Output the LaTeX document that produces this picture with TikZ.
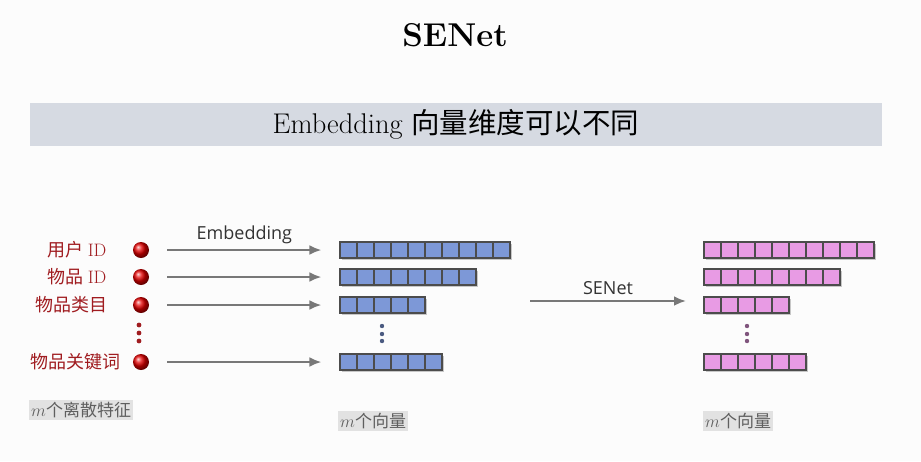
\documentclass[tikz,border=0pt]{standalone}
\usepackage{fontspec}
\newfontfamily\cjk{Noto Sans CJK SC}
\newfontfamily\labelsans{Open Sans}
\usetikzlibrary{arrows.meta,positioning,shadows}
\definecolor{featred}{RGB}{160,28,32}
\definecolor{arrgray}{RGB}{120,120,120}
\definecolor{embblue}{RGB}{125,152,215}
\definecolor{senpink}{RGB}{232,155,228}
\definecolor{bannerbg}{RGB}{214,218,226}
\definecolor{capbg}{RGB}{226,226,226}
\definecolor{capgray}{RGB}{95,95,95}
\tikzstyle{feat} = [circle, minimum size=16pt, inner sep=0pt, shading=ball, ball color=red!90!black]
\tikzstyle{cell} = [draw=black!70, line width=1.1pt, minimum width=17pt, minimum height=16pt, inner sep=0pt]
\tikzstyle{featname} = [anchor=east, text=featred, font=\cjk\fontsize{18}{18}\selectfont]
\tikzstyle{arr} = [-{Latex[length=12pt,width=10pt]}, draw=arrgray, line width=2.6pt]
\tikzstyle{arrlabel} = [above, inner sep=5pt, font=\labelsans\fontsize{18}{18}\selectfont, text=black!80]
\tikzstyle{caption} = [anchor=west, fill=capbg, text=capgray, inner sep=2pt, font=\cjk\fontsize{17}{19}\selectfont]

\begin{document}
\begin{tikzpicture}[x=1pt, y=-1pt]
    % Frame
    \fill[black!1] (0,0) rectangle (921,461);
    \useasboundingbox (0,0) rectangle (921,461);
    \node (title) at (455,35) {\fontsize{33}{35}\selectfont\bfseries SENet};
    \node [fill=bannerbg, minimum width=852pt, minimum height=43pt] (banner) at (456,124.5)
        {\fontsize{28.5}{30}\selectfont Embedding {\cjk 向量维度可以不同}};

    % Features
    \node [feat] (f1) at (141,250) {};
    \node [feat] (f2) at (141,277) {};
    \node [feat] (f3) at (141,305) {};
    \node [feat] (f4) at (141,362) {};
    \node [featname] (n1) at (110,250) {用户 {\rmfamily ID}};
    \node [featname] (n2) at (110,277) {物品 {\rmfamily ID}};
    \node [featname] (n3) at (111,305) {物品类目};
    \node [featname] (n4) at (124,362) {物品关键词};
    \foreach \y in {325,333,341} \fill[featred] (139,\y) circle (2.4pt);

    % Vectors
    \foreach \r/\y/\n in {1/250/10, 2/277/8, 3/305/5, 4/362/6} {
        \fill[black!22] (342,\y-6) rectangle ++(17*\n,16);
        \fill[black!22] (706,\y-6) rectangle ++(17*\n,16);
        \foreach \i in {1,...,\n} {
            \node [cell, fill=embblue] (e\r-\i) at ({340+17*(\i-0.5)},\y) {};
            \node [cell, fill=senpink] (s\r-\i) at ({704+17*(\i-0.5)},\y) {};
        }
    }
    \foreach \y in {326,334,341} {
        \fill[embblue!60!black] (382,\y) circle (2.2pt);
        \fill[senpink!55!black] (747,\y) circle (2.2pt);
    }

    % Connections
    \draw [arr, shorten <=18pt, shorten >=18pt] (f1) -- node [arrlabel] (emb) {Embedding} (e1-1);
    \draw [arr, shorten <=18pt, shorten >=18pt] (f2) -- (e2-1);
    \draw [arr, shorten <=18pt, shorten >=18pt] (f3) -- (e3-1);
    \draw [arr, shorten <=18pt, shorten >=18pt] (f4) -- (e4-1);
    \coordinate (se-in) at (530,301);
    \coordinate (se-out) at (686,301);
    \draw [arr] (se-in) -- node [arrlabel] (se) {SENet} (se-out);

    % Captions
    \node [caption] (c1) at (29,410) {$m$个离散特征};
    \node [caption] (c2) at (338,421) {$m$个向量};
    \node [caption] (c3) at (703,421) {$m$个向量};
\end{tikzpicture}
\end{document}
